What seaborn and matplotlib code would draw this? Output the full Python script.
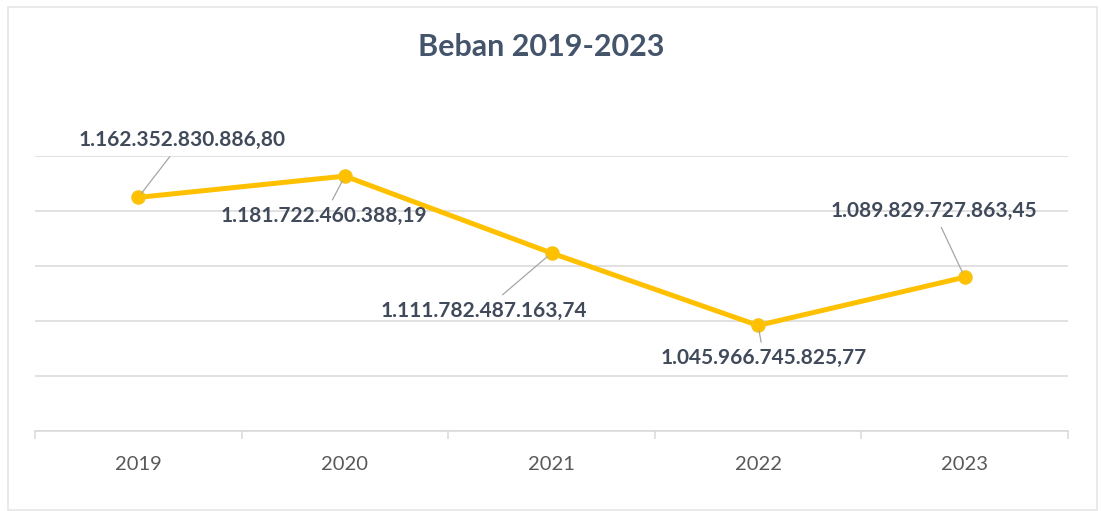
import matplotlib
matplotlib.use("Agg")
import matplotlib.pyplot as plt
import seaborn as sns
import pandas as pd
from matplotlib.patches import Rectangle
from matplotlib.ticker import FixedLocator

years = ["2019", "2020", "2021", "2022", "2023"]
values = [1162352830886.80, 1181722460388.19, 1111782487163.74,
          1045966745825.77, 1089829727863.45]
labels = ["1.162.352.830.886,80", "1.181.722.460.388,19", "1.111.782.487.163,74",
          "1.045.966.745.825,77", "1.089.829.727.863,45"]
title = "Beban 2019-2023"

df = pd.DataFrame({"Tahun": years, "Beban": [v / 1e9 for v in values]})

sns.set_theme(style="white")
plt.rcParams["font.family"] = ["Lato", "DejaVu Sans"]

fig = plt.figure(figsize=(11.01, 5.11), dpi=100)
ax = fig.add_axes([35 / 1101, 80 / 511, (1068 - 35) / 1101, (431 - 156) / 511])

line_color = "#FFC000"
sns.lineplot(data=df, x="Tahun", y="Beban", ax=ax, color=line_color, linewidth=3.6,
             marker="o", markersize=9.5, markeredgecolor="#F5C518",
             markerfacecolor=line_color, markeredgewidth=1.0, sort=False)

ax.set_xlim(-0.5, 4.5)
ax.set_ylim(950, 1200)
ax.set_yticks([950, 1000, 1050, 1100, 1150, 1200])
ax.set_yticklabels([])
ax.tick_params(axis="y", length=0)
ax.yaxis.grid(True, color="#D9D9D9", linewidth=1.1)
ax.xaxis.grid(False)
ax.set_xlabel("")
ax.set_ylabel("")
for s in ["top", "right", "left"]:
    ax.spines[s].set_visible(False)
ax.spines["bottom"].set_color("#D9D9D9")
ax.spines["bottom"].set_linewidth(1.1)
ax.spines["bottom"].set_zorder(0.5)

ax.xaxis.set_minor_locator(FixedLocator([-0.5, 0.5, 1.5, 2.5, 3.5, 4.5]))
ax.tick_params(axis="x", which="minor", length=6, width=1.1, color="#D9D9D9",
               direction="out", bottom=True)
ax.tick_params(axis="x", which="major", length=0, pad=18, labelsize=14.5,
               labelcolor="#595959")

offsets = [(44, 57), (-21, -40), (-68, -58), (6, -33), (-31, 66)]
for i, (lab, off) in enumerate(zip(labels, offsets)):
    ax.annotate(lab, xy=(i, df["Beban"][i]), xytext=off, textcoords="offset pixels",
                ha="center", va="center", fontsize=15, fontweight="bold",
                color="#404A5A",
                bbox=dict(boxstyle="square,pad=0.3", fc="none", ec="none"),
                arrowprops=dict(arrowstyle="-", color="#A6A6A6", lw=0.9,
                                shrinkA=0, shrinkB=4))

fig.text(541 / 1101, 1 - 47 / 511, title, ha="center", va="center",
         fontsize=22, fontweight="bold", color="#44546A")

fig.patches.append(Rectangle((8 / 1101, 1 / 511), 1089 / 1101, 503 / 511,
                             transform=fig.transFigure, fill=False,
                             edgecolor="#E6E6E6", linewidth=1.2))

fig.savefig("out.png", dpi=100, facecolor="white")
